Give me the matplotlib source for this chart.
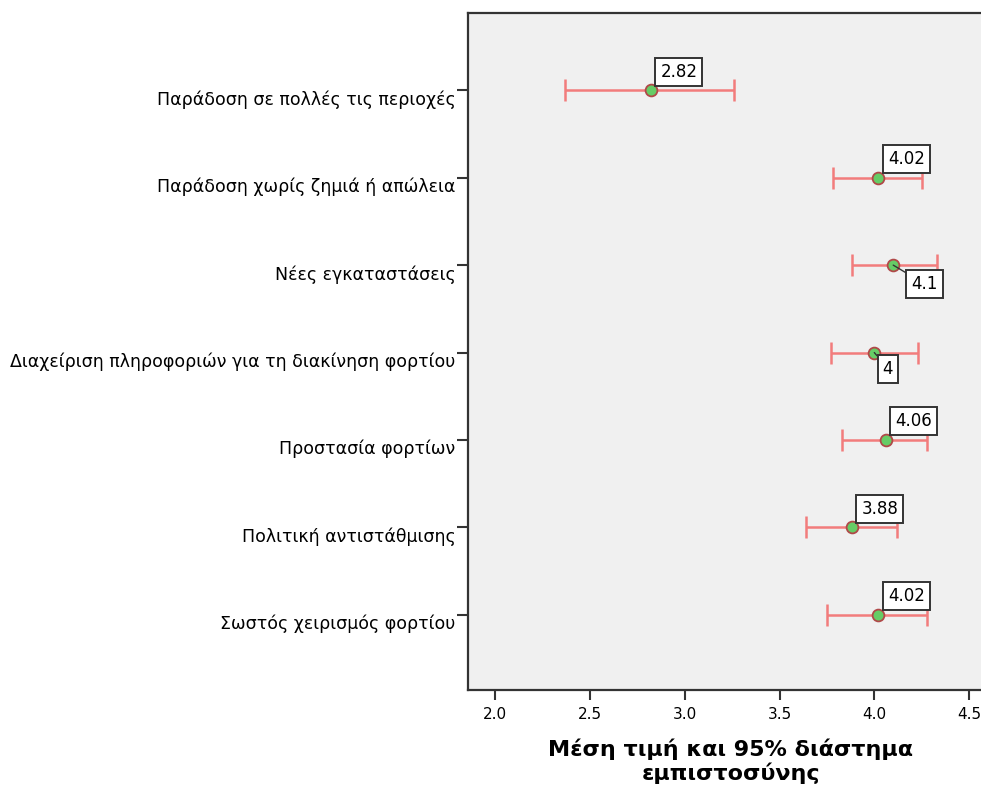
import matplotlib
matplotlib.use("Agg")
import matplotlib.pyplot as plt
import numpy as np

categories = [
    "Παράδοση σε πολλές τις περιοχές",
    "Παράδοση χωρίς ζημιά ή απώλεια",
    "Νέες εγκαταστάσεις",
    "Διαχείριση πληροφοριών για τη διακίνηση φορτίου",
    "Προστασία φορτίων",
    "Πολιτική αντιστάθμισης",
    "Σωστός χειρισμός φορτίου",
]
means = [2.82, 4.02, 4.10, 4.00, 4.06, 3.88, 4.02]
ci_low = [2.37, 3.78, 3.88, 3.77, 3.83, 3.64, 3.75]
ci_high = [3.26, 4.25, 4.33, 4.23, 4.28, 4.12, 4.28]
value_labels = ["2.82", "4.02", "4.1", "4", "4.06", "3.88", "4.02"]
x_ticks = [2.0, 2.5, 3.0, 3.5, 4.0, 4.5]
xlabel = "Μέση τιμή και 95% διάστημα\nεμπιστοσύνης"

# label placement (offset points) for each value box
label_offsets = [(7, 7), (7, 7), (13, -7), (6, -5), (7, 7), (7, 7), (7, 7)]

W, H = 981, 787
fig = plt.figure(figsize=(W / 100, H / 100), dpi=100)
fig.patch.set_facecolor("white")

x0, x1 = 1.856, 4.75
left_px, top_px, bottom_px = 468, 12.5, 690
px_per_unit = 189.5
right_px = left_px + (x1 - x0) * px_per_unit
ax = fig.add_axes([left_px / W, 1 - bottom_px / H, (right_px - left_px) / W, (bottom_px - top_px) / H])
ax.set_facecolor("#f0f0f0")

y = np.arange(len(categories))
means_a = np.array(means)
err = np.vstack([means_a - np.array(ci_low), np.array(ci_high) - means_a])

ax.errorbar(means_a, y, xerr=err, fmt="none", ecolor="#f27c7c", elinewidth=1.8,
            capsize=8, capthick=1.8, zorder=2)
ax.scatter(means_a, y, s=72, color="#66cc66", edgecolors="#b04848", linewidths=1.3, zorder=3)

for xi, yi, lab, off in zip(means, y, value_labels, label_offsets):
    below = off[1] < 0
    ax.annotate(lab, xy=(xi, yi), xytext=off, textcoords="offset points",
                ha="left", va="top" if below else "bottom", fontsize=12, color="black", zorder=4,
                bbox=dict(boxstyle="square,pad=0.3", fc="white", ec="#333333", lw=1.4),
                arrowprops=dict(arrowstyle="-", color="#333333", lw=1.0, shrinkA=0, shrinkB=0) if below else None)

ax.set_xlim(x0, x1)
ax.set_ylim(6.86, -0.89)
ax.set_xticks(x_ticks)
ax.set_xticklabels([f"{t:.1f}" for t in x_ticks], fontsize=11)
ax.set_yticks(y)
ax.set_yticklabels(categories, fontsize=12.5)
for lbl in ax.get_yticklabels():
    lbl.set_va("top")
ax.tick_params(axis="y", length=8, width=1.5, color="#333333", pad=1)
ax.tick_params(axis="x", length=7, width=1.5, color="#333333", pad=5)
for sp in ax.spines.values():
    sp.set_color("#333333")
    sp.set_linewidth(1.6)

ax.set_xlabel(xlabel, fontsize=16, fontweight="bold", labelpad=12, linespacing=1.15)
lab = ax.xaxis.get_label()
lab.set_position(((731 - left_px) / (right_px - left_px), 0))

fig.savefig("out.png", dpi=100, facecolor="white")
